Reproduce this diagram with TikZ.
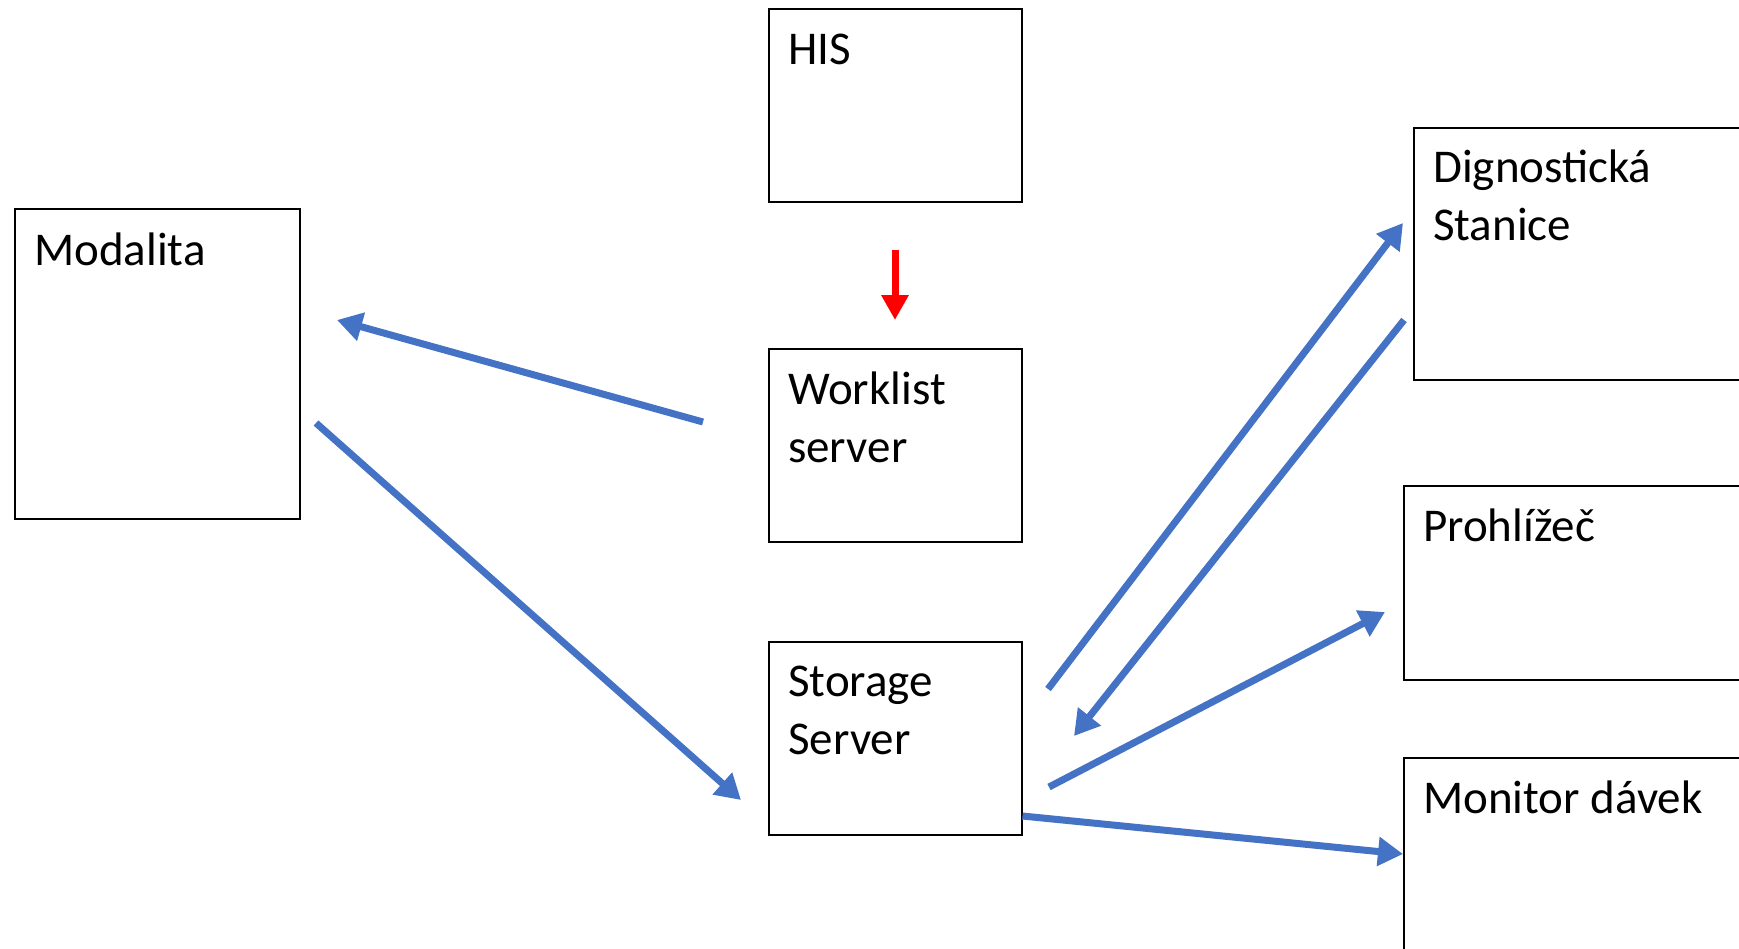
\documentclass[tikz,border=0pt]{standalone}
\usepackage{fontspec}
\setmainfont{Carlito}
\usetikzlibrary{arrows.meta}
\definecolor{oblue}{RGB}{68,114,196}
\definecolor{ored}{RGB}{255,0,0}
\tikzset{
  box/.style={draw=black, line width=1.5pt, fill=none, inner sep=0pt, anchor=north west},
  lbl/.style={anchor=base west, inner sep=0pt, align=left, font=\fontsize{47}{57.5}\selectfont},
  flow/.style={draw=oblue, line width=7pt, -{Triangle[length=25pt,width=28pt]}},
  redflow/.style={draw=ored, line width=7pt, -{Triangle[length=25pt,width=26pt]}}
}
\begin{document}
\begin{tikzpicture}[x=1pt,y=-1pt]
\useasboundingbox (0,0) rectangle (1739,948);
\clip (0,0) rectangle (1739,948);
% boxes
\node[box, minimum width=285pt, minimum height=310pt] (mod) at (14,208) {};
\node[box, minimum width=253pt, minimum height=193pt] (his) at (768,8) {};
\node[box, minimum width=253pt, minimum height=193pt] (wl) at (768,348) {};
\node[box, minimum width=253pt, minimum height=193pt] (st) at (768,641) {};
\node[box, minimum width=340pt, minimum height=252pt] (dg) at (1413,127) {};
\node[box, minimum width=350pt, minimum height=194pt] (pr) at (1403,485) {};
\node[box, minimum width=350pt, minimum height=200pt] (mo) at (1403,757) {};
% labels (multi-line nodes: base is the last line's baseline)
\node[lbl] (tmod) at (34,265) {Modalita};
\node[lbl] (this) at (788,64) {HIS};
\node[lbl] (twl) at (788,462) {Worklist\\server};
\node[lbl] (tst) at (788,754) {Storage\\Server};
\node[lbl] (tdg) at (1433,240) {Dignostická\\Stanice};
\node[lbl] (tpr) at (1423,541) {Prohlížeč};
\node[lbl] (tmo) at (1423,813) {Monitor dávek};
% connector end points
\coordinate (r1) at (895,250);
\coordinate (r2) at (895,320);
\coordinate (a1) at (703,422);
\coordinate (a2) at (337,320);
\coordinate (b1) at (316,423);
\coordinate (b2) at (741,800);
\coordinate (c1) at (1048,689);
\coordinate (c2) at (1403,223);
\coordinate (d1) at (1404,320);
\coordinate (d2) at (1074,736);
\coordinate (e1) at (1049,787);
\coordinate (e2) at (1385,612);
\coordinate (f1) at (st.east |- 0,816);
\coordinate (f2) at (mo.west |- 0,854);
% connectors
\draw[redflow] (r1) -- (r2);
\draw[flow] (a1) -- (a2);
\draw[flow] (b1) -- (b2);
\draw[flow] (c1) -- (c2);
\draw[flow] (d1) -- (d2);
\draw[flow] (e1) -- (e2);
\draw[flow] (f1) -- (f2);
\end{tikzpicture}
\end{document}
